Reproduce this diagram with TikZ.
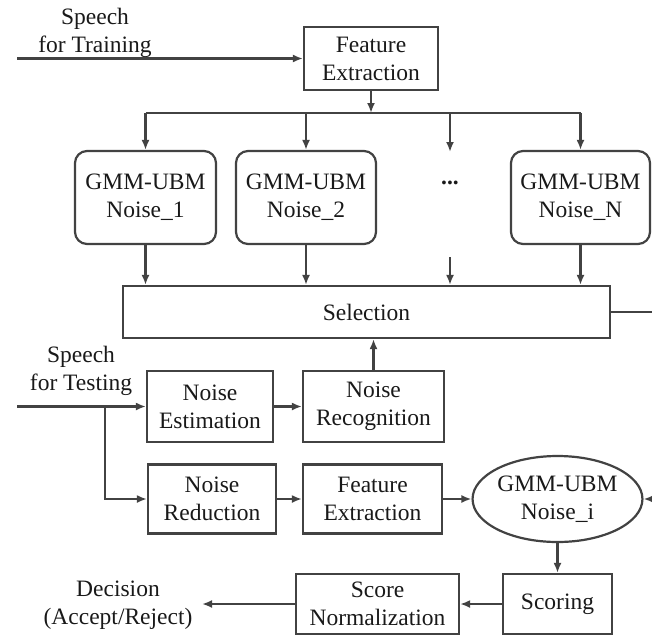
\documentclass[tikz,border=0pt]{standalone}
\usepackage{fontspec}
\setmainfont{Liberation Serif}
\newfontfamily\labelserif{Liberation Serif}
\usetikzlibrary{arrows.meta,shapes.geometric}
\definecolor{ink}{rgb}{0.26,0.26,0.26}
\definecolor{txt}{rgb}{0.1,0.1,0.1}
\begin{document}
\begin{tikzpicture}[x=1pt,y=-1pt,
  every node/.style={font=\labelserif\fontsize{23.5}{28}\selectfont, text=txt, align=center, inner sep=0pt},
  blk/.style={draw=ink, line width=2.2pt, minimum width=#1},
  gmm/.style={draw=ink, line width=2.2pt, rounded corners=12pt, minimum width=#1, minimum height=93},
  wire/.style={draw=ink, line width=2.2pt},
  flow/.style={wire, -{Latex[length=10pt,width=8pt]}}]
\useasboundingbox (0,0) rectangle (652,635);

% training branch
\node[blk=134, minimum height=63] (fe) at (371,58.5) {Feature\\Extraction};
\node (trainlbl) at (95,32.5) {Speech\\for Training};
\coordinate (trainin) at (17,58.5);
\draw[flow] (trainin) -- (fe);

% noise models
\node[gmm=141] (g1) at (145.5,197.5) {GMM-UBM\\Noise\_1};
\node[gmm=140] (g2) at (306,197.5) {GMM-UBM\\Noise\_2};
\node[gmm=139] (gn) at (580.5,197.5) {GMM-UBM\\Noise\_N};
\node[font=\labelserif\fontsize{23.5}{28}\selectfont\bfseries] (dots) at (450,183) {...};

\coordinate (bus) at (371,113);
\coordinate (busl) at (145.5,113);
\coordinate (busr) at (580.5,113);
\coordinate (busd) at (450,113);
\coordinate (dtop) at (450,152);
\coordinate (dbot) at (450,257);
\draw[flow] (fe.south) -- (bus);
\draw[wire] (busl) -- (busr);
\draw[flow] (busl) -- (g1.north);
\draw[flow] (g2.north |- bus) -- (g2.north);
\draw[flow] (busd) -- (dtop);
\draw[flow] (busr) -- (gn.north);

% selection
\node[blk=487, minimum height=52] (sel) at (366.5,312) {Selection};
\coordinate (selout) at (652,312);
\draw[flow] (g1.south) -- (g1.south |- sel.north);
\draw[flow] (g2.south) -- (g2.south |- sel.north);
\draw[flow] (dbot) -- (dbot |- sel.north);
\draw[flow] (gn.south) -- (gn.south |- sel.north);
\draw[wire] (sel.east) -- (selout);

% testing branch
\node (testlbl) at (81,371) {Speech\\for Testing};
\node[blk=126, minimum height=71] (nest) at (210,406.5) {Noise\\Estimation};
\node[blk=141, minimum height=71] (nrec) at (373.5,406.5) {Noise\\Recognition};
\node[blk=128, minimum height=69] (nred) at (212,499) {Noise\\Reduction};
\node[blk=139, minimum height=69] (fe2) at (372.5,499) {Feature\\Extraction};
\node[draw=ink, line width=2.2pt, ellipse, minimum width=153, minimum height=86] (gi) at (557.5,499) {GMM-UBM\\Noise\_i};
\coordinate (testin) at (17,406.5);
\coordinate (split) at (105,406.5);
\coordinate (giin) at (652,499);
\draw[flow] (testin) -- (nest);
\draw[flow] (split) |- (nred.west);
\draw[flow] (nest) -- (nrec);
\draw[flow] (nrec.north) -- (nrec.north |- sel.south);
\draw[flow] (nred) -- (fe2);
\draw[flow] (fe2.east) -- (gi.west);
\draw[flow] (giin) -- (gi.east);

% scoring
\node[blk=109, minimum height=60] (score) at (557.5,604) {Scoring};
\node[blk=163, minimum height=60] (norm) at (377.5,604) {Score\\Normalization};
\node (dec) at (118,605) {Decision\\(Accept/Reject)};
\coordinate (decin) at (202,604);
\draw[flow] (gi.south) -- (score.north);
\draw[flow] (score) -- (norm);
\draw[flow] (norm.west) -- (decin);
\end{tikzpicture}
\end{document}
